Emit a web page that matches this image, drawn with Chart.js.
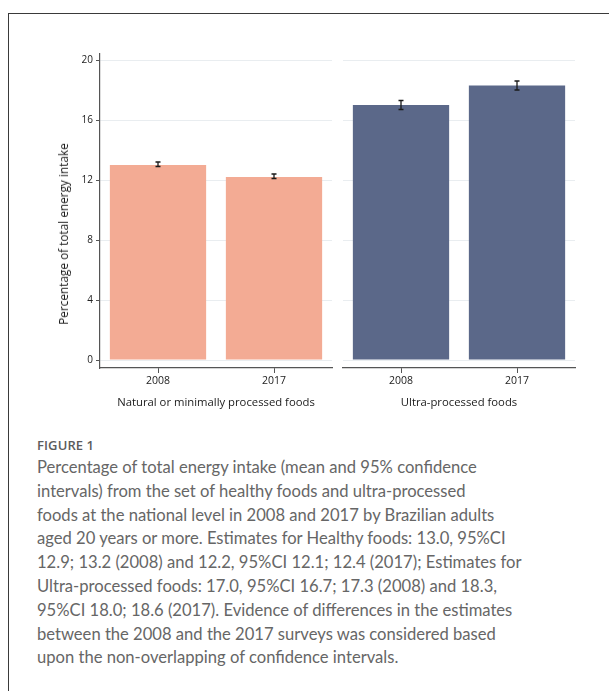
<!DOCTYPE html>
<html>
<head>
<meta charset="utf-8">
<script src="https://cdn.jsdelivr.net/npm/chart.js@4"></script>
<style>
body { margin:0; width:609px; height:691px; overflow:hidden; background:#fff; font-family:"Open Sans", sans-serif; position:relative; }
#frame { position:absolute; left:8px; top:13px; width:700px; height:800px; border:1.5px solid #3a3a3a; }
#left { position:absolute; left:0; top:0; }
#right { position:absolute; left:335px; top:0; }
#ytitle { position:absolute; left:63px; top:234px; transform:translate(-50%,-50%) rotate(-90deg); white-space:nowrap; font-size:11.8px; color:#1a1a1a; }
#fig { position:absolute; left:37px; top:436px; font-size:13px; font-weight:600; color:#5c5c5c; letter-spacing:0.1px; }
#caption { position:absolute; left:37px; top:456px; font-family:Lato, sans-serif; font-size:16.6px; line-height:23.8px; color:#666; white-space:nowrap; }
</style>
</head>
<body>
<div id="frame"></div>
<canvas id="left" width="340" height="420"></canvas>
<canvas id="right" width="250" height="420"></canvas>
<div id="ytitle">Percentage of total energy intake</div>
<div id="fig">FIGURE 1</div>
<div id="caption">
Percentage of total energy intake (mean and 95% confidence<br>
intervals) from the set of healthy foods and ultra-processed<br>
foods at the national level in 2008 and 2017 by Brazilian adults<br>
aged 20 years or more. Estimates for Healthy foods: 13.0, 95%CI<br>
12.9; 13.2 (2008) and 12.2, 95%CI 12.1; 12.4 (2017); Estimates for<br>
Ultra-processed foods: 17.0, 95%CI 16.7; 17.3 (2008) and 18.3,<br>
95%CI 18.0; 18.6 (2017). Evidence of differences in the estimates<br>
between the 2008 and the 2017 surveys was considered based<br>
upon the non-overlapping of confidence intervals.
</div>
<script>
// dane z wykresu
const groups = ["Natural or minimally processed foods", "Ultra-processed foods"];
const years = ["2008", "2017"];
const healthyMean = [13.0, 12.2];
const healthyLow = [12.9, 12.1];
const healthyHigh = [13.2, 12.4];
const ultraMean = [17.0, 18.3];
const ultraLow = [16.7, 18.0];
const ultraHigh = [17.3, 18.6];
const yTicks = [0, 4, 8, 12, 16, 20];
const barColors = ["#F3AB94", "#5B6889"];

const axisColor = "#555";
const gridColor = "#e9edf0";

// wąsy przedziałów ufności
const errorBars = {
    id: "errorBars",
    afterDatasetsDraw(chart) {
        const ds = chart.data.datasets[0];
        const meta = chart.getDatasetMeta(0);
        const y = chart.scales.y;
        const ctx = chart.ctx;
        ctx.save();
        ctx.strokeStyle = "#1a1a1a";
        ctx.lineWidth = 1.3;
        meta.data.forEach((bar, i) => {
            const yl = y.getPixelForValue(ds.low[i]);
            const yh = y.getPixelForValue(ds.high[i]);
            ctx.beginPath();
            ctx.moveTo(bar.x, yl); ctx.lineTo(bar.x, yh);
            ctx.moveTo(bar.x - 2.5, yl); ctx.lineTo(bar.x + 2.5, yl);
            ctx.moveTo(bar.x - 2.5, yh); ctx.lineTo(bar.x + 2.5, yh);
            ctx.stroke();
        });
        ctx.restore();
    }
};

function makePanel(id, group, mean, low, high, color, showY) {
    const ctx = document.getElementById(id).getContext("2d");
    return new Chart(ctx, {
        type: "bar",
        data: {
            labels: years,
            datasets: [{
                data: mean,
                low, high,
                backgroundColor: color,
                borderWidth: 0,
                barPercentage: 0.83,
                categoryPercentage: 1
            }]
        },
        options: {
            responsive: false,
            devicePixelRatio: 1,
            animation: false,
            layout: { padding: showY ? { left: 0, right: 8, top: 54, bottom: 0 } : { left: 8, right: 10, top: 54, bottom: 0 } },
            plugins: { legend: { display: false }, tooltip: { enabled: false } },
            scales: {
                x: {
                    afterFit: s => { s.height = 52; },
                    border: { display: true, color: axisColor, width: 1.2 },
                    grid: { offset: false, drawOnChartArea: false, drawTicks: true, tickLength: 5, tickColor: axisColor, tickWidth: 1 },
                    ticks: { color: "#222", font: { family: "Open Sans", size: 10.5 }, padding: 2 },
                    title: { display: true, text: group, color: "#1a1a1a", font: { family: "Open Sans", size: 11.3 }, padding: { top: 0, bottom: 10 } }
                },
                y: {
                    min: -0.533,
                    max: 20.4,
                    afterFit: s => { s.width = showY ? 100 : 0; },
                    afterBuildTicks: s => { s.ticks = yTicks.map(v => ({ value: v })); },
                    border: { display: showY, color: axisColor, width: 1.2 },
                    grid: { color: gridColor, lineWidth: 1, drawTicks: showY, tickLength: 4, tickColor: axisColor },
                    ticks: { display: showY, color: "#222", font: { family: "Open Sans", size: 10 }, padding: 3 }
                }
            }
        },
        plugins: [errorBars]
    });
}

document.fonts.load("10px 'Open Sans'").then(() => {
    makePanel("left", groups[0], healthyMean, healthyLow, healthyHigh, barColors[0], true);
    makePanel("right", groups[1], ultraMean, ultraLow, ultraHigh, barColors[1], false);
});
</script>
</body>
</html>
